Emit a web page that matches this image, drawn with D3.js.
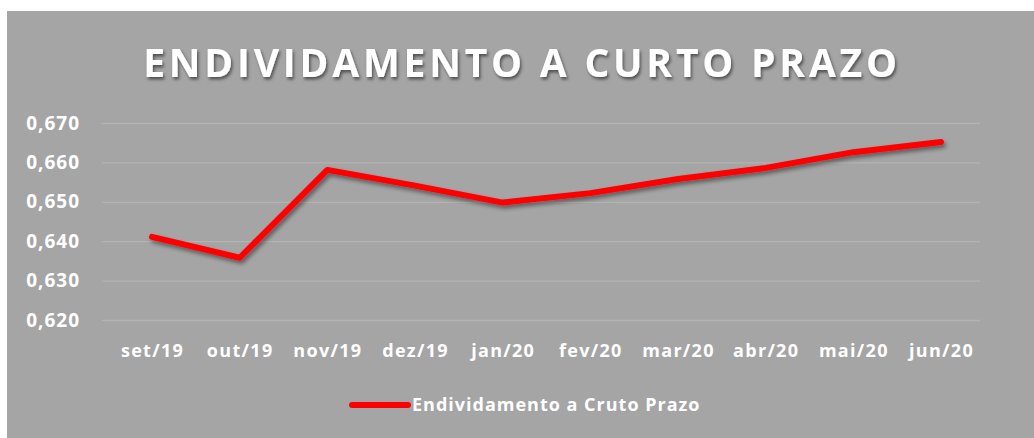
<!DOCTYPE html>
<html lang="pt">
<head>
<meta charset="UTF-8">
<title>Endividamento a Curto Prazo</title>
<script src="https://d3js.org/d3.v7.min.js"></script>
<style>
    body { margin: 0; background: #ffffff; }
    svg { display: block; }
    text { font-family: "Open Sans", sans-serif; font-weight: bold; fill: #ffffff; }
    .grid line { stroke: #b3b3b3; stroke-width: 1.3; }
    .grid path { display: none; }
    .axis path, .axis line { display: none; }
    .axis text { font-size: 18px; }
</style>
</head>
<body>
<script>
    // dados
    var meses = ["set/19", "out/19", "nov/19", "dez/19", "jan/20", "fev/20", "mar/20", "abr/20", "mai/20", "jun/20"];
    var valores = [0.6411, 0.6358, 0.6581, 0.6541, 0.6498, 0.6522, 0.6558, 0.6586, 0.6626, 0.6652];
    var yTicks = [0.62, 0.63, 0.64, 0.65, 0.66, 0.67];
    var titulo = "ENDIVIDAMENTO A CURTO PRAZO";
    var serieNome = "Endividamento a Cruto Prazo";

    var W = 1034, H = 438;
    var plot = {left: 102, right: 980, top: 123, bottom: 320};

    var svg = d3.select("body").append("svg")
        .attr("width", W)
        .attr("height", H);

    var defs = svg.append("defs");
    var f1 = defs.append("filter").attr("id", "sombra")
        .attr("x", "-10%").attr("y", "-30%").attr("width", "130%").attr("height", "180%");
    f1.append("feDropShadow").attr("dx", 2).attr("dy", 3).attr("stdDeviation", 2)
        .attr("flood-color", "#000").attr("flood-opacity", 0.45);
    var f2 = defs.append("filter").attr("id", "sombraTxt")
        .attr("x", "-5%").attr("y", "-30%").attr("width", "110%").attr("height", "170%");
    f2.append("feDropShadow").attr("dx", 1.5).attr("dy", 2.5).attr("stdDeviation", 1.5)
        .attr("flood-color", "#000").attr("flood-opacity", 0.5);

    // fundo
    svg.append("rect")
        .attr("x", 7).attr("y", 11)
        .attr("width", W - 7).attr("height", H - 11)
        .attr("fill", "#a5a5a5");

    // titulo
    svg.append("text")
        .attr("x", 522)
        .attr("y", 77)
        .attr("text-anchor", "middle")
        .style("font-size", "39px")
        .style("letter-spacing", "3.8px")
        .attr("filter", "url(#sombraTxt)")
        .text(titulo);

    var x = d3.scalePoint().domain(meses).range([152, 941]);
    var y = d3.scaleLinear().domain([0.62, 0.67]).range([plot.bottom, plot.top]);

    var fmt = function(d) { return d3.format(".3f")(d).replace(".", ","); };

    // grade
    svg.append("g")
        .attr("class", "grid")
        .attr("transform", "translate(" + plot.left + ",0)")
        .call(d3.axisLeft(y).tickValues(yTicks).tickSize(-(plot.right - plot.left)).tickFormat(""));

    // eixo y
    svg.append("g")
        .attr("class", "axis")
        .attr("transform", "translate(" + (plot.left - 22) + ",0)")
        .call(d3.axisLeft(y).tickValues(yTicks).tickSize(0).tickPadding(0).tickFormat(fmt))
        .selectAll("text").style("font-size", "19px").style("letter-spacing", "1px");

    // eixo x
    svg.append("g")
        .attr("class", "axis")
        .attr("transform", "translate(0," + (plot.bottom + 24) + ")")
        .call(d3.axisBottom(x).tickSize(0).tickPadding(0))
        .selectAll("text").attr("dy", "0.71em").style("letter-spacing", "1.3px");

    // linha
    var linha = d3.line()
        .x(function(d, i) { return x(meses[i]); })
        .y(function(d) { return y(d); });

    svg.append("path")
        .datum(valores)
        .attr("d", linha)
        .attr("fill", "none")
        .attr("stroke", "#ff0000")
        .attr("stroke-width", 6)
        .attr("stroke-linecap", "round")
        .attr("stroke-linejoin", "round")
        .attr("filter", "url(#sombra)");

    // legenda
    var leg = svg.append("g").attr("transform", "translate(352,405)");
    leg.append("line")
        .attr("x1", 0).attr("x2", 56)
        .attr("y1", 0).attr("y2", 0)
        .attr("stroke", "#ff0000")
        .attr("stroke-width", 6)
        .attr("stroke-linecap", "round");
    leg.append("text")
        .attr("x", 60)
        .attr("y", 0)
        .attr("dy", "0.35em")
        .style("font-size", "18px")
        .style("letter-spacing", "1px")
        .text(serieNome);
</script>
</body>
</html>
